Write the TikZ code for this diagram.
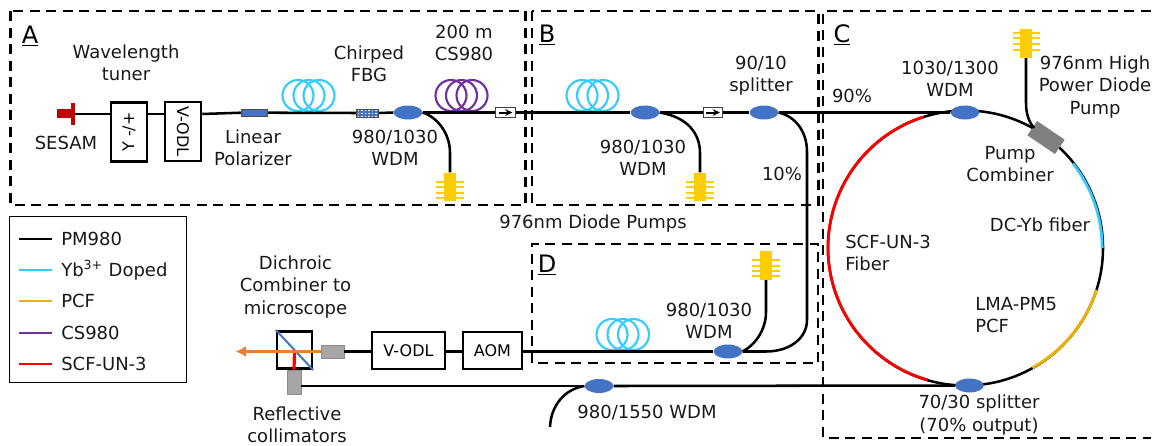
\documentclass[tikz,border=0pt]{standalone}
\usepackage{fontspec}
\setmainfont{DejaVu Sans}
\usetikzlibrary{arrows.meta,shapes.geometric}
\definecolor{wdmblue}{HTML}{4472C4}
\definecolor{ybblue}{HTML}{33CCFF}
\definecolor{pcfgold}{HTML}{EDB100}
\definecolor{cspurple}{HTML}{7030A0}
\definecolor{pumpgold}{HTML}{FFCC00}
\definecolor{arrorange}{HTML}{ED7D31}
\tikzset{
  fib/.style={line width=1.9pt,black},
  dbox/.style={draw=black,line width=1.6pt,dash pattern=on 7.5pt off 4.9pt},
  lab/.style={font=\fontsize{13.5}{16.7}\selectfont,align=center,inner sep=0pt,text=black!90},
  seclab/.style={font=\fontsize{18}{20}\selectfont,inner sep=0pt},
  unit/.style={draw=black,line width=1.9pt,fill=white,inner sep=0pt,font=\fontsize{12}{14}\selectfont},
  wdm/.style={ellipse,fill=wdmblue,minimum width=21.5pt,minimum height=10.5pt,inner sep=0pt},
  coilring/.style={line width=1.6pt},
  pumpbody/.style={fill=pumpgold,draw=none,minimum width=8.5pt,minimum height=21.5pt,inner sep=0pt},
  iso/.style={draw=black!75,line width=0.9pt,fill=white,minimum width=14.5pt,minimum height=7.5pt,inner sep=0pt},
  legline/.style={line width=2pt},
  graybox/.style={fill=black!35,draw=black!45,line width=0.5pt,inner sep=0pt},
  isoarrow/.style={-{Stealth[length=5.5pt,width=5pt]},line width=1.5pt},
}
\newcommand{\fibcoil}[4]{%
  \foreach \cx in {#1,#2,#3} \draw[coilring,draw=#4] (\cx,95.5) circle[radius=15.5];}
\newcommand{\pumpicon}[3]{%
  \node[pumpbody] (#1) at (#2,#3+14.5) {};
  \foreach \dy in {9,14.5,20,25} \draw[pumpgold,line width=1.5pt] (#2-14,#3+\dy) -- (#2+14,#3+\dy);
}
\begin{document}
\begin{tikzpicture}[x=0.75pt,y=-0.75pt]
\useasboundingbox (0,0) rectangle (1153,446);
% section boxes
\draw[dbox] (10.5,11) rectangle (525.5,205);
\draw[dbox] (532,11) rectangle (818.5,205);
\draw[dbox] (1151,11) -- (823,11) -- (823,438) -- (1151,438);
\draw[dbox] (532,363) -- (532,244) -- (818,244) -- (818,363) -- cycle;
\node[seclab] (secA) at (30,36) {\underline{A}};
\node[seclab] (secB) at (547,35) {\underline{B}};
\node[seclab] (secC) at (842,35) {\underline{C}};
\node[seclab] (secD) at (547,265) {\underline{D}};
% circle fibre
\coordinate (cc) at (965.5,248);
\draw[fib] (cc) circle[radius=137.5];
\draw[line width=2.1pt,red] (923,117) arc[start angle=-108,end angle=-254,radius=137.5];
\draw[line width=2.1pt,ybblue] (1073,163.5) arc[start angle=-38,end angle=0,radius=137.5];
\draw[line width=2.1pt,pcfgold] (1096.5,290) arc[start angle=18,end angle=61,radius=137.5];
% Section A components
\node[fill=red!75!black,minimum width=12pt,minimum height=7pt,inner sep=0pt] (sesamb) at (65,113.5) {};
\node[fill=red!75!black,minimum width=3pt,minimum height=16.5pt,inner sep=0pt] (sesam) at (73,114) {};
\node[unit,minimum width=27pt,minimum height=44pt] (tuner) at (129,132) {\rotatebox{90}{Y -/+}};
\node[unit,minimum width=27pt,minimum height=44pt] (odla) at (183,131.5) {\rotatebox{-90}{V-ODL}};
\node[fill=wdmblue,draw=black!70,line width=0.6pt,minimum width=20pt,minimum height=5.5pt,inner sep=0pt] (pol) at (254.5,112.7) {};
\node[fill=wdmblue,draw=black!70,line width=0.6pt,minimum width=17pt,minimum height=6pt,inner sep=0pt,
  path picture={\foreach \q in {-9,-5.5,...,9.5}{\draw[white,line width=1pt,dash pattern=on 1.1pt off 1.1pt] (\q,-6) -- (\q,6);}}] (fbg) at (367.5,113) {};
\node[wdm] (wa) at (408,112.5) {};
\node[iso] (isoa) at (505.5,112.5) {};
\node[iso] (isob) at (713,112.5) {};
\node[wdm] (wb) at (645,112.5) {};
\node[wdm] (spl) at (764,112.5) {};
\node[wdm] (wc) at (965,112.5) {};
\node[wdm] (wd) at (728,351.5) {};
\node[wdm] (sout) at (969.5,385.5) {};
\node[wdm] (woff) at (599,386) {};
\pumpicon{pa}{450}{172.5}
\pumpicon{pb}{700}{172.5}
\pumpicon{pd}{766}{251}
\node[pumpbody] (pc) at (1026,43.5) {};
\foreach \dy in {33,38.3,43.7,49.5} \draw[pumpgold,line width=1.5pt] (1013,\dy) -- (1040,\dy);
\node[fill=black!50,minimum width=25pt,minimum height=13pt,inner sep=0pt,rotate=-34] (comb) at (1046,137.5) {};
% coils
\fibcoil{298}{309}{319}{ybblue}
\fibcoil{451}{461.5}{472}{cspurple}
\fibcoil{582}{592.5}{603}{ybblue}
\begin{scope}[yshift=-179.25pt]
\fibcoil{612}{623}{633.5}{ybblue}
\end{scope}
% fibres
\draw[fib] (sesam.east) -- (tuner.west |- sesam.east);
\draw[fib] (tuner.east |- sesam.east) -- (odla.west |- sesam.east);
\draw[fib] (odla.east |- sesam.east) -- (pol.west);
\draw[fib] (pol.east) -- (fbg.west);
\draw[fib] (fbg.east) -- (wa.west);
\draw[fib] (wa.east) -- (isoa.west);
\draw[fib] (isoa.east) -- (wb.west);
\draw[fib] (wb.east) -- (isob.west);
\draw[fib] (isob.east) -- (spl.west);
\draw[fib] (spl.east) -- (wc.west);
\draw[fib] (wa.east) .. controls (437,117) and (450,133) .. (450,153) -- (pa.north);
\draw[fib] (wb.east) .. controls (687,117) and (700,133) .. (700,153) -- (pb.north);
\draw[fib] (spl.east) .. controls (794,116) and (807,130) .. (807,152) -- (807,320) .. controls (807,338) and (790,351.5) .. (766,351.5) -- (wd.east);
\draw[fib] (wd.east) .. controls (755,345) and (766,330) .. (766,312) -- (pd.south);
\draw[fib] (pc.south) -- (1026,103) .. controls (1026,114) and (1029,122) .. (1034,128);
% arrows in isolators
\draw[isoarrow] (498.5,112.5) -- (512.5,112.5);
\draw[isoarrow] (706,112.5) -- (720,112.5);
% delay line row
\node[unit,minimum width=55pt,minimum height=28pt] (aodl) at (408.5,350.5) {V-ODL};
\node[unit,minimum width=44pt,minimum height=28pt] (aom) at (492.5,350.5) {AOM};
\draw[fib] (aom.east |- wd.west) -- (wd.west);
\draw[fib] (aodl.east |- wd.west) -- (aom.west |- wd.west);
\node[graybox,minimum width=17pt,minimum height=10pt] (cola) at (332.5,351.5) {};
\draw[fib] (cola.east) -- (aodl.west |- cola.east);
\node[draw=black,line width=1.9pt,fill=white,minimum width=26pt,minimum height=28pt,inner sep=0pt] (cube) at (294.5,350) {};
\node[graybox,minimum width=10.5pt,minimum height=18pt] (colb) at (294,382) {};
\draw[wdmblue,line width=1.5pt] (cube.north west) -- (cube.south east);
\draw[red,line width=2.4pt] (294.5,351.5) -- (colb.north);
\draw[arrorange,line width=2.6pt,-{Latex[length=8pt,width=8.5pt]}] (cola.west) -- (235.5,351.5);
\draw[fib] (colb.east |- woff.west) -- (woff.west);
\draw[fib] (woff.east) -- (sout.west);
\coordinate (free) at (550,427);
\draw[fib] (woff.west) .. controls (565,389) and (551,405) .. (free);
% texts
\node[lab] (t1) at (126,63) {Wavelength\\tuner};
\node[lab] (t2) at (66,143) {SESAM};
\node[lab] (t3) at (253,148) {Linear\\Polarizer};
\node[lab] (t4) at (369,64) {Chirped\\FBG};
\node[lab] (t5) at (395,148) {980/1030\\WDM};
\node[lab] (t6) at (464,43) {200 m\\CS980};
\node[lab] (t7) at (643,158) {980/1030\\WDM};
\node[lab] (t8) at (761,76) {90/10\\splitter};
\node[lab] (t9) at (782,174) {10\%};
\node[lab] (t10) at (593,223.5) {976nm Diode Pumps};
\node[lab] (t11) at (852,96) {90\%};
\node[lab] (t12) at (950,79) {1030/1300\\WDM};
\node[lab] (t13) at (1095,87) {976nm High\\Power Diode\\Pump};
\node[lab] (t14) at (1010,164) {Pump\\Combiner};
\node[lab] (t15) at (1040,225) {DC-Yb fiber};
\node[lab,align=left,anchor=west] (t16) at (845,253) {SCF-UN-3\\Fiber};
\node[lab,align=left,anchor=west] (t17) at (975,315) {LMA-PM5\\PCF};
\node[lab] (t18) at (979,415) {70/30 splitter\\(70\% output)};
\node[lab] (t19) at (647,413) {980/1550 WDM};
\node[lab] (t20) at (709,320.5) {980/1030\\WDM};
\node[lab] (t21) at (295.5,287) {Dichroic\\Combiner to\\microscope};
\node[lab] (t22) at (297,425) {Reflective\\collimators};
% legend
\node[draw=black,line width=0.9pt,fill=white,minimum width=133pt,minimum height=124pt,inner sep=0pt] (legend) at (98.2,299.5) {};
\foreach \yy/\cc/\tt in {239/black/PM980,270/ybblue/{Yb\textsuperscript{3+} Doped},301/pcfgold/PCF,333/cspurple/CS980,364/red/SCF-UN-3}
{
  \draw[legline,draw=\cc] (19,\yy) -- (52,\yy);
  \node[lab,anchor=west] at (61,\yy) {\tt};
}
\end{tikzpicture}
\end{document}
